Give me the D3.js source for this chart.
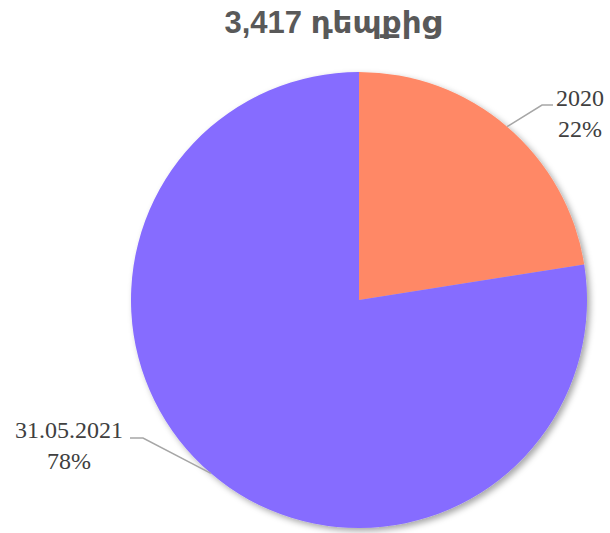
<html>
<script src="https://cdnjs.cloudflare.com/ajax/libs/d3/7.8.5/d3.min.js"></script>
<body style="margin:0;background:#fff" onload="init()">
<svg width="610" height="533"></svg>
<script>
// data
var categories = ["2020", "31.05.2021"];
var values = [769, 2648];
var percentLabels = ["22%", "78%"];
var colors = ["#FF8866", "#866CFF"];
var titleText = "3,417 դեպքից";

function init() {
    var svg = d3.select("svg");
    var cx = 359, cy = 300, radius = 228;

    var defs = svg.append("defs");
    var f = defs.append("filter").attr("id", "shadow")
        .attr("x", "-10%").attr("y", "-10%").attr("width", "120%").attr("height", "120%");
    f.append("feDropShadow").attr("dx", 3).attr("dy", 3).attr("stdDeviation", 3)
        .attr("flood-color", "#000").attr("flood-opacity", 0.35);

    svg.append("text")
        .attr("x", 333).attr("y", 33)
        .attr("text-anchor", "middle")
        .attr("font-family", "'Liberation Sans', Arial, 'DejaVu Sans', sans-serif")
        .attr("font-weight", "bold")
        .attr("font-size", "31px")
        .attr("fill", "#595959")
        .text(titleText);

    var pie = d3.pie().sort(null).value(function(d) { return d; });
    var arcs = pie(values);
    var arc = d3.arc().innerRadius(0).outerRadius(radius);

    var g = svg.append("g").attr("transform", "translate(" + cx + "," + cy + ")");
    g.append("g").attr("filter", "url(#shadow)")
        .selectAll("path")
        .data(arcs)
        .enter()
        .append("path")
        .attr("d", arc)
        .attr("fill", function(d, i) { return colors[i]; });

    // label anchors: [text center x, first baseline y, elbow x, elbow y]
    var labelPos = [
        { x: 580, y: 106, ex: 542, ey: 105, hx: 553 },
        { x: 69, y: 438, ex: 143, ey: 438, hx: 130 }
    ];

    arcs.forEach(function(d, i) {
        var mid = (d.startAngle + d.endAngle) / 2;
        var px = cx + radius * Math.sin(mid);
        var py = cy - radius * Math.cos(mid);
        var p = labelPos[i];
        svg.append("polyline")
            .attr("points", [[px, py], [p.ex, p.ey], [p.hx, p.ey]].map(function(q) { return q.join(","); }).join(" "))
            .attr("fill", "none")
            .attr("stroke", "#a6a6a6")
            .attr("stroke-width", 1.5);

        var t = svg.append("text")
            .attr("text-anchor", "middle")
            .attr("font-family", "'Liberation Serif', 'Times New Roman', serif")
            .attr("font-size", "24px")
            .attr("fill", "#404040");
        t.append("tspan").attr("x", p.x).attr("y", p.y).text(categories[i]);
        t.append("tspan").attr("x", p.x).attr("y", p.y + 31).text(percentLabels[i]);
    });
}
</script>
</body>
</html>
